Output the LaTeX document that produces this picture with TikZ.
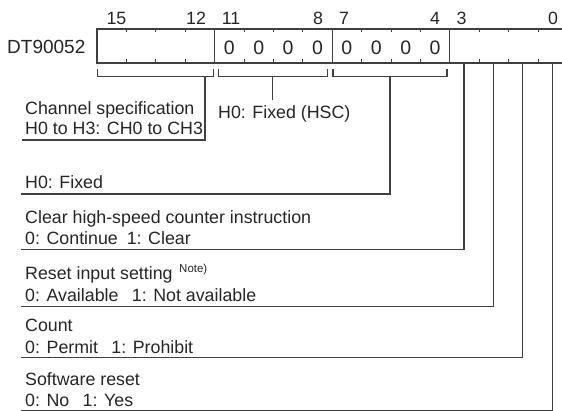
\documentclass[tikz,border=0pt]{standalone}
\usepackage{fontspec}
\setmainfont{Liberation Sans}
\begin{document}
\begin{tikzpicture}[x=1pt,y=-1pt,
  ln/.style={draw=black!75, line width=1.2pt},
  txt/.style={inner sep=0pt, anchor=base west, text=black!85, font=\fontsize{17.8}{21}\selectfont},
  bitnum/.style={inner sep=0pt, anchor=base, text=black!85, font=\fontsize{17.8}{21}\selectfont},
  digit/.style={inner sep=0pt, anchor=base, text=black!85, font=\fontsize{19.5}{21}\selectfont},
  note/.style={inner sep=0pt, anchor=base west, text=black!85, font=\fontsize{11.5}{13}\selectfont}
]
\useasboundingbox (0,0) rectangle (562,411);
\fill[white] (0,0) rectangle (562,411);
\clip (0,0) rectangle (562,411);
\def\bw{29.4}
% register label
\node[txt, font=\fontsize{19}{21}\selectfont] (reg) at (7,53.5) {DT90052};
% bit numbers
\node[bitnum] (b15) at (116.5,25) {15};
\node[bitnum] (b12) at (196,25) {12};
\node[bitnum] (b11) at (231,25) {11};
\node[bitnum] (b8) at (318,25) {8};
\node[bitnum] (b7) at (344,25) {7};
\node[bitnum] (b4) at (435,25) {4};
\node[bitnum] (b3) at (461.5,25) {3};
\node[bitnum] (b0) at (553,25) {0};
% register box
\coordinate (tl) at (97,29);
\coordinate (br) at (97+16*\bw,63);
\draw[ln] (tl) rectangle (br);
\foreach \i in {4,8,12} \draw[ln] (97+\i*\bw,29) -- (97+\i*\bw,63);
\foreach \i in {1,2,3,5,6,7,9,10,11,13,14,15} {
  \draw[ln, line width=1pt] (97+\i*\bw,29) -- (97+\i*\bw,32.5);
  \draw[ln, line width=1pt] (97+\i*\bw,59.5) -- (97+\i*\bw,63);
}
% zeros
\foreach \i in {4,...,11} \node[digit] (z\i) at (97+\i*\bw+0.5*\bw,54.5) {0};
% brackets
\draw[ln] (97.5,69.5) -- (97.5,76.5) -- (213.5,76.5) -- (213.5,69.5);
\draw[ln] (218.5,69.5) -- (218.5,76.5) -- (327.5,76.5) -- (327.5,69.5);
\draw[ln] (333,69.5) -- (333,76.5) -- (447,76.5) -- (447,69.5);
\coordinate (br1) at (205,76.5);
\coordinate (br2) at (272.5,76.5);
\coordinate (br3) at (390,76.5);
% bit line tops
\coordinate (t3) at (464,63);
\coordinate (t2) at (493.4,63);
\coordinate (t1) at (522.8,63);
\coordinate (t0) at (552.2,63);
% texts
\node[txt] (ch1) at (25,115) {Channel specification};
\node[txt] (ch2) at (25,135) {H0 to H3: CH0 to CH3};
\node[txt] (hsc) at (218,119) {H0: Fixed (HSC)};
\node[txt] (fx) at (25,188.5) {H0: Fixed};
\node[txt] (cl1) at (25,224) {Clear high-speed counter instruction};
\node[txt] (cl2) at (25,245) {0: Continue\hspace{0.5em}1: Clear};
\node[txt] (rs1) at (25,280) {Reset input setting};
\node[note] (nt) at (179,273) {Note)};
\node[txt] (rs2) at (25,301.5) {0: Available\hspace{0.75em}1: Not available};
\node[txt] (cn1) at (25,331.5) {Count};
\node[txt] (cn2) at (25,353) {0: Permit\hspace{0.75em}1: Prohibit};
\node[txt] (sw1) at (25,385) {Software reset};
\node[txt] (sw2) at (25,406.5) {0: No\hspace{0.75em}1: Yes};
% leader lines
\coordinate (u1) at (22,140);
\coordinate (u2) at (21,194);
\coordinate (u3) at (21,249.5);
\coordinate (u4) at (21,306.5);
\coordinate (u5) at (21,357.5);
\coordinate (u6) at (21,410.5);
\coordinate (hscend) at (272.5,100);
\draw[ln] (br1) |- (u1);
\draw[ln] (br2) -- (hscend);
\draw[ln] (br3) |- (u2);
\draw[ln] (t3) |- (u3);
\draw[ln] (t2) |- (u4);
\draw[ln] (t1) |- (u5);
\draw[ln] (t0) |- (u6);
\end{tikzpicture}
\end{document}
